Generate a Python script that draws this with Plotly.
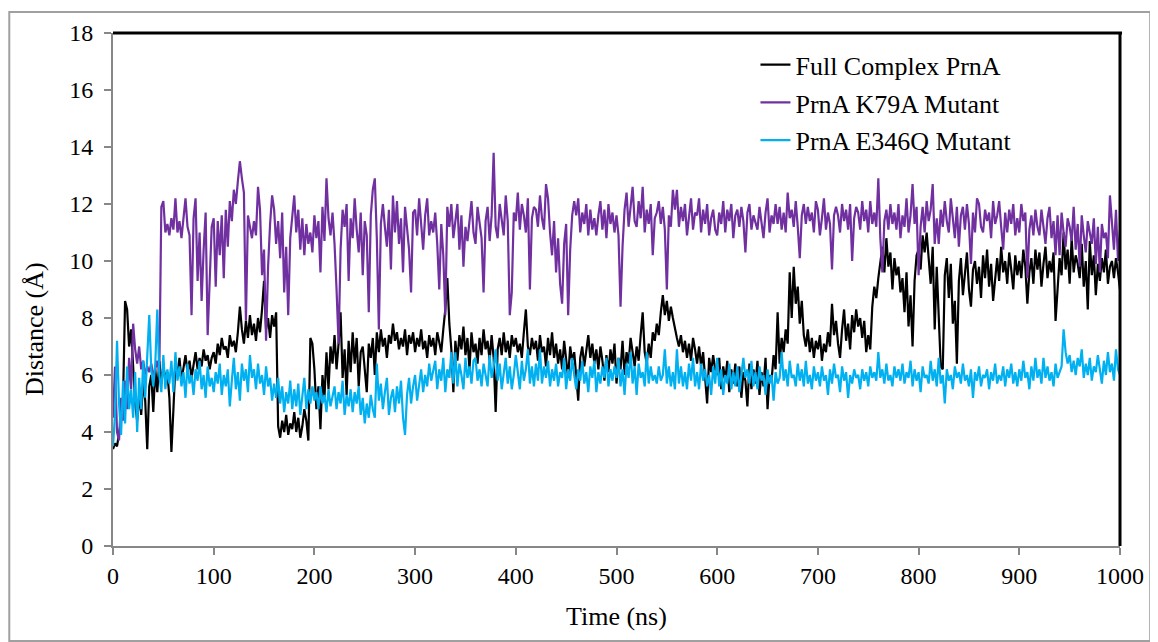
import plotly.graph_objects as go

# time axis in ns, read every 2 ns
time_ns = list(range(0, 1001, 2))

full_complex = [
    3.4, 3.6, 3.5, 3.9, 4.4, 5.2, 8.6, 8.3, 7.0, 7.6,
    6.1, 5.0, 4.4, 5.3, 4.6, 5.8, 5.1, 3.4, 5.6, 6.0,
    4.7, 6.2, 5.4, 6.5, 5.7, 6.3, 5.9, 6.1, 5.2, 3.3,
    4.8, 6.4, 6.0, 6.6, 5.8, 6.3, 6.7, 6.1, 6.5, 5.9,
    6.4, 6.8, 6.2, 6.6, 6.3, 6.9, 6.5, 6.7, 6.2, 6.6,
    6.8, 6.4, 7.1, 6.7, 7.3, 6.9, 7.0, 6.6, 7.4, 7.0,
    7.2, 6.8, 7.5, 8.4, 7.6, 7.1, 7.9, 7.3, 8.1, 7.4,
    7.8, 7.2, 8.0, 7.5, 8.3, 9.3, 7.6, 8.0, 7.3, 8.1,
    7.7, 8.2, 4.2, 3.8, 4.4, 4.0, 4.6, 3.9, 4.3, 4.1,
    4.7, 4.0, 4.5, 3.8, 4.2, 4.8, 4.4, 3.7, 7.3, 7.1,
    6.2, 4.8, 5.6, 4.1, 6.0, 5.2, 6.8, 5.5, 7.0, 6.4,
    7.4, 6.2, 7.1, 8.2, 5.9, 6.9, 5.3, 7.2, 6.1, 7.5,
    6.4, 7.3, 5.6, 6.8, 7.0, 6.2, 5.4, 7.1, 6.6, 7.3,
    6.0, 7.5, 6.8, 7.6, 7.0, 7.3, 6.6, 7.4, 7.1, 7.8,
    7.2, 7.5, 6.9, 7.3, 7.0, 7.6, 6.7, 7.4, 7.1, 7.5,
    6.8, 7.3, 7.0, 7.6, 6.9, 7.2, 6.6, 7.4, 7.0, 7.3,
    6.7, 7.5, 7.1, 6.8, 7.6, 8.3, 9.4, 7.8, 6.9, 5.4,
    7.2, 6.5, 7.4, 6.9, 7.7, 6.7, 7.3, 6.2, 7.5, 6.8,
    7.1, 6.4, 7.3, 6.7, 7.6, 6.9, 7.2, 6.5, 7.4, 6.6,
    4.7, 6.9, 7.3, 6.7, 7.5, 6.8, 7.2, 6.6, 7.4, 7.0,
    7.3, 6.8, 7.1, 6.6, 7.5, 8.3, 7.0, 6.7, 7.3, 6.9,
    7.2, 6.5, 7.4, 6.8, 7.0, 6.3, 7.3, 6.7, 7.5, 6.6,
    7.1, 6.4, 6.9, 6.2, 7.2, 6.6, 5.9, 7.0, 6.5, 6.8,
    5.8, 5.1, 6.6, 7.0, 6.3, 6.8, 7.4, 6.6, 7.1, 6.4,
    6.9, 6.2, 7.0, 6.5, 5.8, 6.7, 6.1, 6.9, 6.4, 7.1,
    5.7, 6.6, 6.2, 7.2, 6.0, 6.8, 6.4, 7.3, 6.7, 6.3,
    7.0, 6.5, 7.4, 8.2, 6.8, 6.4, 7.1, 6.6, 7.5, 7.2,
    7.8, 7.4, 8.2, 8.8, 8.1, 8.6, 7.9, 8.4, 8.0, 7.6,
    7.3, 7.0, 7.4, 6.8, 7.2, 6.6, 7.1, 6.5, 7.3, 6.9,
    6.4, 7.0, 6.3, 6.8, 5.9, 5.0, 6.6, 6.1, 6.7, 6.2,
    6.0, 6.6, 5.5, 6.3, 5.8, 6.5, 5.4, 6.2, 5.7, 6.4,
    5.6, 6.3, 5.2, 6.1, 5.8, 4.9, 6.4, 5.5, 6.2, 5.7,
    6.5, 5.3, 6.1, 5.6, 6.6, 4.8, 6.0, 5.8, 6.7, 6.2,
    8.2, 6.4, 7.3, 6.8, 7.6, 7.1, 9.6, 8.0, 9.8, 8.5,
    9.1, 7.8, 8.6, 7.4, 7.0, 7.6, 6.8, 7.3, 6.6, 7.2,
    6.9, 7.4, 6.5, 7.1, 6.8, 7.5, 7.0, 8.5, 7.4, 7.9,
    7.1, 6.6, 7.6, 8.3, 7.2, 7.8, 6.9, 8.1, 7.5, 8.3,
    7.7, 8.0, 7.3, 7.9, 6.8, 7.4, 6.9, 8.4, 9.1, 8.7,
    9.4, 10.0, 10.5, 9.6, 10.8, 9.8, 10.3, 9.0, 10.1, 9.5,
    9.8, 8.9, 9.4, 8.2, 9.6, 7.7, 8.8, 7.0, 9.3, 10.2,
    10.4, 9.7, 10.9, 10.3, 11.0, 10.1, 9.2, 10.5, 7.6, 9.8,
    8.3, 6.3, 6.2, 9.5, 10.1, 8.7, 9.9, 7.8, 8.6, 6.4,
    9.3, 10.1, 8.8, 9.6, 10.3, 9.0, 8.4, 9.7, 10.0, 9.2,
    9.8, 8.7, 10.2, 9.4, 10.4, 9.1, 9.9, 8.6, 9.5, 10.1,
    9.3, 10.5, 9.6, 10.0, 9.2, 10.3, 9.7, 9.0, 10.2, 9.5,
    10.0, 9.4, 10.4, 9.8, 8.5, 9.6, 10.1, 9.2, 10.4, 9.7,
    10.3, 9.1, 9.9, 10.5, 9.4, 10.0, 9.6, 10.3, 7.9, 9.2,
    10.1, 9.5, 11.0, 9.7, 10.4, 9.2, 10.8, 9.6, 10.2, 9.9,
    9.4, 10.6, 9.1, 10.0, 8.3, 10.7, 9.5, 10.2, 8.8, 9.9,
    9.3, 10.1, 9.6, 10.4, 9.2, 9.8, 10.0, 9.4, 10.1, 9.6,
    9.0,
]

k79a_mutant = [
    4.5, 6.3, 4.0, 3.7, 5.2, 4.4, 5.8, 4.8, 6.6, 5.5,
    7.8, 6.9, 6.4, 7.0, 6.2, 6.5, 6.0, 6.3, 6.1, 6.4,
    6.0, 6.2, 6.5, 6.1, 11.9, 12.1, 11.0, 11.3, 10.9, 11.5,
    11.1, 12.2, 11.0, 11.4, 10.8, 11.6, 12.2, 11.2, 10.9, 8.1,
    11.5, 12.2, 9.3, 11.0, 8.6, 10.4, 11.7, 7.4, 9.0, 11.2,
    11.5, 9.1, 11.4, 10.2, 11.6, 9.4, 11.8, 10.5, 12.1, 11.4,
    12.5, 12.0, 12.8, 13.5, 12.9, 12.4, 7.9, 11.6, 11.2, 10.8,
    11.4, 10.9, 12.6, 11.8, 9.5, 10.4, 7.2, 9.8, 11.3, 12.3,
    11.8, 10.6, 11.4, 10.1, 11.7, 8.9, 10.5, 8.1, 10.8, 11.6,
    12.3, 11.0, 11.8, 10.4, 11.5, 10.2, 11.3, 10.6, 11.0, 10.3,
    11.6, 10.8, 11.4, 9.6, 11.9, 10.7, 12.9, 11.5, 10.9, 11.7,
    10.6, 9.0, 7.1, 10.4, 11.8, 11.2, 12.0, 9.3, 11.5, 10.8,
    12.2, 11.1, 10.3, 11.7, 9.5, 11.4, 10.9, 8.2, 11.6, 12.5,
    12.9, 10.8, 7.6, 11.3, 12.0, 11.2, 10.5, 11.8, 9.7, 12.3,
    11.0, 12.1, 10.6, 11.5, 9.6, 11.9, 11.1, 10.4, 8.9, 11.7,
    11.8, 10.9, 12.2, 11.2, 10.4, 11.6, 12.2, 10.9, 11.4, 11.0,
    11.7, 10.6, 9.0, 11.3, 10.2, 8.1, 11.9, 11.2, 12.0, 10.8,
    11.5, 12.0, 10.4, 11.6, 9.8, 11.2, 10.7, 11.5, 12.1, 11.0,
    10.6, 11.9, 11.3, 10.8, 8.9, 11.4, 11.9, 10.7, 11.6, 13.8,
    11.2, 10.8, 12.0, 11.5, 10.9, 12.3, 11.4, 8.1, 8.9, 11.7,
    11.4, 12.4, 11.1, 12.0, 11.6, 11.0, 12.2, 9.0, 11.5, 11.9,
    11.8, 11.2, 12.3, 11.5, 11.1, 12.7, 12.2, 11.0, 10.2, 11.4,
    9.6, 10.8, 9.2, 8.5, 10.6, 11.3, 8.1, 10.4, 11.6, 12.1,
    11.6, 12.2, 11.0, 11.7, 11.3, 12.0, 10.9, 11.8, 11.1, 11.5,
    10.9, 11.6, 12.1, 11.1, 11.8, 10.8, 12.0, 11.3, 11.7, 11.0,
    11.6, 10.9, 8.4, 10.5, 11.8, 12.4, 11.2, 11.9, 12.6, 11.4,
    11.2, 12.1, 11.5, 12.6, 11.0, 11.8, 11.3, 12.0, 10.2, 11.5,
    11.7, 12.1, 11.3, 11.9, 11.1, 9.0, 11.6, 11.2, 12.5, 11.8,
    12.5, 11.2, 11.9, 11.4, 12.0, 10.9, 11.6, 12.2, 11.1, 11.7,
    11.6, 12.2, 11.0, 11.8, 11.3, 12.0, 10.9, 11.5, 11.8, 11.1,
    10.9, 11.7, 11.3, 12.1, 11.0, 11.8, 11.4, 12.0, 10.8, 11.6,
    11.8, 11.2, 11.9, 11.4, 10.3, 11.7, 12.0, 11.1, 11.6, 11.3,
    11.1, 11.9, 11.4, 10.8, 11.7, 12.2, 11.0, 11.6, 11.3, 12.0,
    11.3, 11.9, 11.1, 11.7, 11.0, 12.4, 11.5, 11.8, 11.2, 12.1,
    11.2, 10.1, 11.6, 12.0, 11.3, 11.9, 11.4, 11.7, 11.0, 12.1,
    11.8, 10.9, 11.5, 12.2, 11.1, 11.7, 11.3, 9.7, 11.6, 11.9,
    11.6, 11.0, 12.0, 11.4, 11.8, 11.1, 12.0, 10.0, 11.5, 11.9,
    11.7, 11.1, 12.1, 11.4, 11.8, 11.0, 12.1, 11.3, 11.7, 11.2,
    12.9, 10.8, 9.6, 11.4, 11.8, 11.1, 12.0, 11.3, 11.7, 11.1,
    12.0, 10.8, 11.6, 11.2, 12.2, 11.0, 11.6, 12.7, 11.3, 11.9,
    9.5, 11.2, 11.9, 11.0, 12.1, 11.4, 11.8, 12.7, 10.6, 11.5,
    10.6, 11.8, 11.2, 12.1, 11.4, 11.0, 12.2, 11.6, 10.8, 11.9,
    10.5, 11.6, 11.9, 11.1, 12.0, 11.3, 9.9, 11.7, 11.0, 12.2,
    12.0, 11.2, 11.0, 11.8, 11.4, 11.7, 10.8, 12.1, 11.3, 11.6,
    12.1, 11.2, 10.4, 11.7, 11.0, 11.8, 11.3, 12.0, 10.9, 11.5,
    11.0, 12.0, 11.4, 11.7, 9.4, 11.1, 11.6, 10.9, 11.8, 11.2,
    10.9, 11.8, 11.2, 10.6, 11.5, 11.9, 10.8, 11.4, 10.2, 11.6,
    10.2, 11.7, 11.0, 10.5, 11.5, 11.2, 10.7, 11.9, 10.4, 11.3,
    9.8, 11.6, 10.9, 10.3, 11.4, 11.0, 10.6, 11.5, 9.9, 11.2,
    9.6, 11.3, 10.8, 11.0, 10.1, 12.3, 11.5, 10.4, 11.8, 10.0,
    11.1,
]

e346q_mutant = [
    3.5, 4.6, 7.2, 5.0, 3.9, 5.8, 4.3, 6.3, 4.8, 5.5,
    4.5, 6.1, 4.0, 5.9, 4.8, 6.5, 5.2, 6.6, 8.1, 6.2,
    5.6, 6.4, 8.3, 6.0, 5.4, 6.7, 5.5, 6.2, 5.7, 6.5,
    5.4, 6.8, 5.8, 6.3, 5.6, 6.1, 5.2, 6.4, 5.7, 6.0,
    5.3, 6.2, 5.8, 6.5, 5.5, 6.0, 5.2, 6.3, 5.6, 5.9,
    5.4, 6.1, 5.7, 6.4, 5.3, 6.0, 5.6, 6.2, 4.9, 5.8,
    6.6, 5.5, 6.1, 5.1, 6.4, 5.8, 6.2, 5.4, 6.7, 5.9,
    6.2, 5.5, 6.4, 5.7, 6.0, 5.3, 6.3, 5.6, 5.9, 5.1,
    5.7, 5.2, 5.9, 5.0, 5.6, 4.7, 5.4, 5.0, 5.8, 4.8,
    5.5, 4.9, 5.7, 4.6, 5.3, 5.9, 4.8, 5.5, 5.0, 5.6,
    5.1, 5.4, 4.8, 5.6, 5.0, 5.3, 4.7, 5.5, 4.9, 5.2,
    5.6, 4.8, 5.4, 5.0, 5.8, 4.6, 5.3, 4.9, 5.5, 4.7,
    5.4, 5.0, 5.6, 4.6, 5.2, 4.3, 5.0, 4.5, 5.3, 4.8,
    4.5, 6.4, 5.1, 5.7, 4.8, 5.4, 5.9, 4.6, 5.2, 5.5,
    4.7, 5.6, 5.0, 5.8, 4.5, 3.9, 5.3, 5.9, 5.0, 5.6,
    6.0, 5.1, 5.7, 6.2, 5.4, 6.0, 5.6, 6.4, 5.8, 6.1,
    6.5, 5.5, 6.2, 5.8, 6.6, 5.4, 6.2, 5.9, 6.8, 5.7,
    6.8, 5.6, 6.4, 6.0, 5.5, 6.6, 5.9, 6.3, 5.7, 6.5,
    6.6, 5.8, 6.2, 5.6, 6.4, 6.0, 5.6, 6.7, 5.9, 6.3,
    6.9, 5.8, 6.4, 5.5, 6.1, 6.6, 5.7, 6.3, 5.5, 6.0,
    6.7, 6.0, 5.5, 6.5, 5.8, 6.2, 6.9, 5.7, 6.3, 5.6,
    6.4, 5.8, 6.9, 5.7, 6.3, 5.9, 6.5, 5.6, 6.2, 5.8,
    6.4, 5.6, 6.1, 5.9, 6.6, 5.5, 6.2, 5.8, 6.6, 6.0,
    5.5, 6.2, 5.8, 6.5, 5.7, 6.1, 5.4, 6.3, 5.9, 6.5,
    5.4, 6.1, 5.7, 6.3, 5.9, 6.6, 5.6, 6.2, 5.8, 6.3,
    5.9, 6.6, 5.6, 6.2, 5.3, 6.4, 5.9, 6.8, 5.7, 6.3,
    5.3, 6.4, 5.9, 6.1, 5.6, 6.8, 5.7, 6.3, 5.8, 6.0,
    5.7, 6.3, 5.8, 6.0, 6.9, 5.7, 6.3, 5.6, 6.1, 5.5,
    6.9, 5.7, 6.3, 5.6, 6.1, 5.5, 6.4, 5.8, 6.6, 5.6,
    6.1, 5.5, 6.4, 5.8, 6.2, 5.6, 6.0, 5.3, 6.3, 5.7,
    6.6, 5.6, 6.2, 5.3, 6.0, 5.7, 6.4, 5.5, 6.1, 5.6,
    6.3, 5.4, 6.0, 6.6, 5.9, 6.2, 5.7, 6.5, 5.6, 6.1,
    5.5, 6.3, 5.8, 6.0, 5.3, 6.2, 5.7, 6.0, 5.1, 6.1,
    5.7, 5.9, 6.8, 5.8, 6.2, 5.6, 6.5, 5.9, 6.0, 5.6,
    6.4, 5.8, 6.2, 5.6, 6.5, 5.7, 6.0, 5.5, 6.3, 5.8,
    6.1, 5.6, 6.3, 5.8, 6.0, 5.3, 6.2, 5.7, 6.4, 5.9,
    6.0, 5.4, 6.3, 5.8, 6.1, 5.2, 6.0, 5.7, 6.2, 5.9,
    6.0, 5.5, 6.2, 5.8, 6.1, 5.6, 6.3, 5.9, 6.1, 5.8,
    6.8, 5.9, 6.2, 5.7, 6.4, 5.8, 6.0, 5.6, 6.3, 5.9,
    6.2, 5.8, 6.4, 5.7, 6.1, 5.9, 6.5, 5.6, 6.2, 5.8,
    6.1, 5.4, 6.3, 5.9, 6.0, 5.7, 6.5, 5.8, 6.2, 5.6,
    6.6, 5.7, 6.0, 5.0, 6.2, 5.8, 6.0, 5.5, 6.3, 5.9,
    6.1, 5.7, 6.4, 5.8, 6.0, 5.6, 6.2, 5.2, 6.1, 5.8,
    6.3, 5.6, 6.0, 5.9, 6.2, 5.5, 6.1, 5.8, 6.4, 5.7,
    6.0, 5.8, 6.3, 5.6, 6.2, 5.9, 6.4, 5.7, 6.1, 5.6,
    6.2, 5.8, 6.5, 5.9, 6.1, 5.5, 6.3, 5.8, 6.6, 5.9,
    6.2, 5.7, 6.6, 5.9, 6.3, 5.8, 6.1, 5.6, 6.4, 5.9,
    6.1, 6.3, 7.6, 6.8, 6.4, 6.7, 6.1, 6.5, 6.0, 6.6,
    6.3, 6.9, 5.9, 6.4, 6.0, 6.6, 5.8, 6.3, 6.1, 6.7,
    6.2, 5.7, 6.5, 6.0, 6.8, 6.1, 6.4, 5.8, 6.9, 6.2,
    6.0,
]

series_names = ['Full Complex PrnA', 'PrnA K79A Mutant', 'PrnA E346Q Mutant']
series_colors = ['#000000', '#7030a0', '#00b0f0']

serif = 'Liberation Serif, Times New Roman, serif'
axis_grey = '#878787'

fig = go.Figure()
for name, vals, col in zip(series_names, [full_complex, k79a_mutant, e346q_mutant], series_colors):
    fig.add_trace(go.Scatter(x=time_ns, y=vals, mode='lines', name=name, legendgroup=name,
                             line=dict(color=col, width=2.2)))

# page body has an 8px margin, so the figure is a bit smaller than the window
fig.update_layout(
    width=1150, height=634,
    margin=dict(l=105, r=38, t=25, b=96),
    paper_bgcolor='white', plot_bgcolor='white',
    font=dict(family=serif, size=24, color='black'),
    showlegend=True,
    legend=dict(x=0.638, y=0.984, xanchor='left', yanchor='top',
                bgcolor='rgba(0,0,0,0)', font=dict(size=26),
                tracegroupgap=1),
    xaxis=dict(range=[0, 1000], tickmode='linear', tick0=0, dtick=100,
               showgrid=False, zeroline=False, showline=True, linecolor=axis_grey, linewidth=2,
               ticks='outside', ticklen=7, tickwidth=2, tickcolor=axis_grey,
               tickfont=dict(size=24)),
    yaxis=dict(range=[0, 18], tickmode='linear', tick0=0, dtick=2,
               showgrid=False, zeroline=False, showline=True, linecolor=axis_grey, linewidth=2,
               ticks='outside', ticklen=7, tickwidth=2, tickcolor=axis_grey,
               ticklabelstandoff=6, tickfont=dict(size=24)),
    annotations=[
        dict(text='Time (ns)', xref='paper', yref='paper', x=0.5, y=-0.138,
             showarrow=False, font=dict(size=26), xanchor='center', yanchor='middle'),
        dict(text='Distance (Å)', xref='paper', yref='paper', x=-0.0785, y=0.423,
             showarrow=False, font=dict(size=26), textangle=-90,
             xanchor='center', yanchor='middle'),
    ],
    shapes=[
        # black frame on top and right of plot area
        dict(type='line', xref='paper', yref='paper', x0=0, x1=1.002, y0=1, y1=1,
             line=dict(color='black', width=3)),
        dict(type='line', xref='paper', yref='paper', x0=1, x1=1, y0=0, y1=1,
             line=dict(color='black', width=3)),
        # outer grey chart border
        dict(type='rect', xref='paper', yref='paper', x0=-0.103, x1=1.03, y0=-0.185, y1=1.041,
             line=dict(color='#a0a0a0', width=2)),
    ],
)

fig.write_html('out.html')
